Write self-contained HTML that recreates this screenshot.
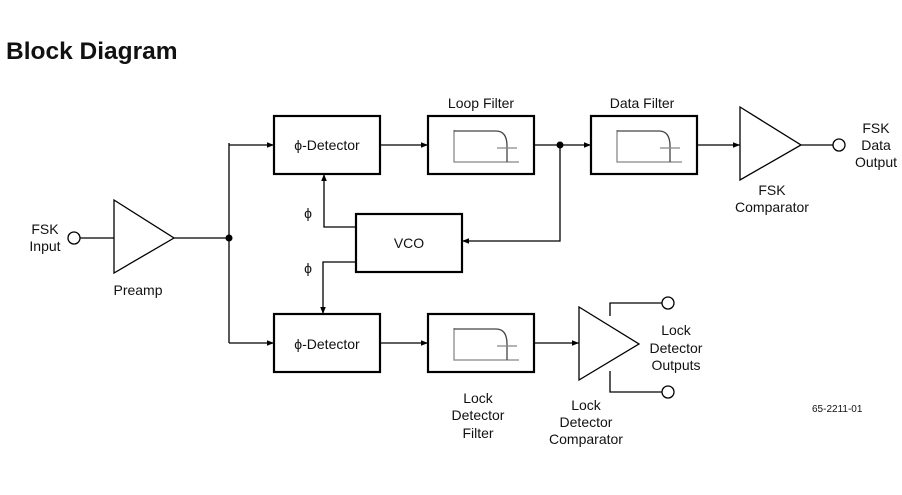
<!DOCTYPE html>
<html><head><style>
html,body{margin:0;padding:0;background:#fff;}
svg{display:block;}
text{font-family:"Liberation Sans",Arial,sans-serif;fill:#111;}
</style></head><body>
<svg width="902" height="495" viewBox="0 0 902 495" xmlns="http://www.w3.org/2000/svg">
<defs>
<marker id="a" viewBox="0 0 10 10" refX="10" refY="5" markerWidth="10" markerHeight="7" markerUnits="userSpaceOnUse" orient="auto"><path d="M0,1 L10,5 L0,9 z" fill="#000"/></marker>
<g id="flt">
<path d="M26,14 V46 H91" fill="none" stroke="#888" stroke-width="1.3"/>
<path d="M26,15 H68 Q79,15 79,30 V46" fill="none" stroke="#444" stroke-width="1.3"/>
<path d="M69,32 H89" fill="none" stroke="#888" stroke-width="1.3"/>
</g>
</defs>
<text x="6" y="59" font-size="24.5" font-weight="bold">Block Diagram</text>
<g fill="none" stroke="#000" stroke-width="1.3">
<rect x="274" y="116" width="106" height="58" stroke-width="2.2"/>
<rect x="428" y="116" width="106" height="58" stroke-width="2.2"/>
<rect x="591" y="116" width="106" height="58" stroke-width="2.2"/>
<rect x="356" y="214" width="106" height="58" stroke-width="2.2"/>
<rect x="274" y="314" width="106" height="58" stroke-width="2.2"/>
<rect x="428" y="314" width="106" height="58" stroke-width="2.2"/>
<path d="M114,200 L114,273 L174,238 Z"/>
<path d="M740,107 L740,180 L801,145 Z"/>
<path d="M579,307 L579,380 L639,344 Z"/>
<circle cx="74" cy="238" r="6"/>
<circle cx="839" cy="145" r="6"/>
<circle cx="668" cy="303" r="6"/>
<circle cx="668" cy="392" r="6"/>
<path d="M80,238 H114"/>
<path d="M174,238 H229"/>
<path d="M229,143 V343"/>
<path d="M229,145 H274" marker-end="url(#a)"/>
<path d="M229,343 H274" marker-end="url(#a)"/>
<path d="M380,145 H428" marker-end="url(#a)"/>
<path d="M534,145 H591" marker-end="url(#a)"/>
<path d="M697,145 H740" marker-end="url(#a)"/>
<path d="M801,145 H833"/>
<path d="M560,145 V241 H462" marker-end="url(#a)"/>
<path d="M356,227 H324 V174" marker-end="url(#a)"/>
<path d="M356,262 H323 V314" marker-end="url(#a)"/>
<path d="M380,343 H428" marker-end="url(#a)"/>
<path d="M534,343 H579" marker-end="url(#a)"/>
<path d="M610,316 V303 H662"/>
<path d="M610,371 V392 H662"/>
</g>
<circle cx="229" cy="238" r="3.5" fill="#000"/>
<circle cx="560" cy="145" r="3.5" fill="#000"/>
<use href="#flt" x="428" y="116"/>
<use href="#flt" x="591" y="116"/>
<use href="#flt" x="428" y="314"/>
<g font-size="14" text-anchor="middle">
<text x="327" y="150">ϕ-Detector</text>
<text x="327" y="349">ϕ-Detector</text>
<text x="409" y="248">VCO</text>
<text x="481" y="108">Loop Filter</text>
<text x="642" y="108">Data Filter</text>
<text x="308" y="218">ϕ</text>
<text x="308" y="273">ϕ</text>
<text x="45" y="234">FSK</text>
<text x="45" y="251">Input</text>
<text x="138" y="295">Preamp</text>
<text x="772" y="195">FSK</text>
<text x="772" y="212">Comparator</text>
<text x="876" y="133">FSK</text>
<text x="876" y="150">Data</text>
<text x="876" y="167">Output</text>
<text x="676" y="335">Lock</text>
<text x="676" y="353">Detector</text>
<text x="676" y="370">Outputs</text>
<text x="478" y="403">Lock</text>
<text x="478" y="420">Detector</text>
<text x="478" y="438">Filter</text>
<text x="586" y="410">Lock</text>
<text x="586" y="427">Detector</text>
<text x="586" y="444">Comparator</text>
</g>
<text x="812" y="412" font-size="10">65-2211-01</text>
</svg>
</body></html>
